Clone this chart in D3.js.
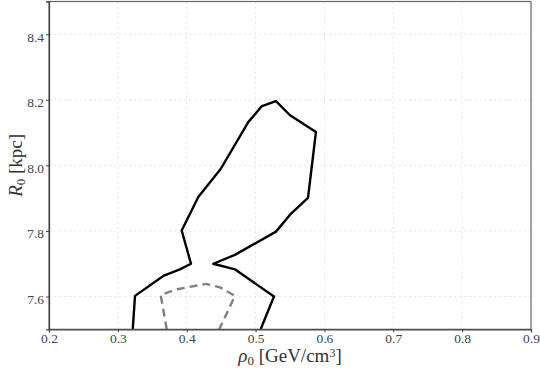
<!DOCTYPE html>
<html><head><meta charset="utf-8">
<script src="https://cdn.jsdelivr.net/npm/d3@7"></script>
<style>body{margin:0;background:#fff}svg{display:block}
svg text{font-family:'Liberation Serif','DejaVu Serif',serif}</style>
</head><body>
<script>
const xTicks = [0.2,0.3,0.4,0.5,0.6,0.7,0.8,0.9];
const yTicks = [7.6,7.8,8.0,8.2,8.4];
const solidX = [0.3216,0.3249,0.367,0.390,0.4062,0.3927,0.4168,0.4493,0.4894,0.5093,0.5297,0.550,0.5877,0.5761,0.550,0.5297,0.470,0.4386,0.470,0.5267,0.5074];
const solidY = [7.5,7.602,7.664,7.683,7.700,7.8015,7.9037,7.989,8.132,8.181,8.196,8.153,8.102,7.9006,7.8495,7.798,7.727,7.700,7.683,7.600,7.5];
const dashX = [0.371,0.3622,0.3854,0.428,0.4483,0.470,0.4473];
const dashY = [7.5,7.605,7.622,7.6385,7.628,7.602,7.5];

const W=540,H=370, L=49, R=531, T=1.5, B=329.3;
const svg=d3.select("body").append("svg").attr("width",W).attr("height",H);
const x=d3.scaleLinear().domain([0.2,0.9]).range([L,R]);
const y=d3.scaleLinear().domain([7.5,8.5]).range([B,T]);
const font="'Liberation Serif','DejaVu Serif',serif";

// grid
svg.append("g").selectAll("line").data(xTicks.slice(1,-1)).join("line")
 .attr("x1",d=>x(d)).attr("x2",d=>x(d)).attr("y1",T).attr("y2",B)
 .attr("stroke","#e2e2e2").attr("stroke-width",0.8).attr("stroke-dasharray","2.5,2.5");
svg.append("g").selectAll("line").data(yTicks).join("line")
 .attr("x1",L).attr("x2",R).attr("y1",d=>y(d)).attr("y2",d=>y(d))
 .attr("stroke","#e2e2e2").attr("stroke-width",0.8).attr("stroke-dasharray","2.5,2.5");

// data lines
const clipId="plotclip";
svg.append("clipPath").attr("id",clipId).append("rect").attr("x",L).attr("y",T).attr("width",R-L).attr("height",B-T);
const line=d3.line().x(d=>x(d[0])).y(d=>y(d[1]));
svg.append("path").datum(solidX.map((v,i)=>[v,solidY[i]])).attr("d",line)
 .attr("fill","none").attr("stroke","#000").attr("stroke-width",2.4).attr("stroke-linejoin","round").attr("clip-path",`url(#${clipId})`);
svg.append("path").datum(dashX.map((v,i)=>[v,dashY[i]])).attr("d",line)
 .attr("fill","none").attr("stroke","#808080").attr("stroke-width",2.4).attr("stroke-dasharray","8,5").attr("clip-path",`url(#${clipId})`);

// frame
svg.append("rect").attr("x",L).attr("y",T).attr("width",R-L).attr("height",B-T)
 .attr("fill","none").attr("stroke","#666").attr("stroke-width",1.2);

// axes
const xAxis=svg.append("g").attr("transform",`translate(0,${B})`)
 .call(d3.axisBottom(x).tickValues(xTicks).tickSize(3).tickPadding(1).tickFormat(d3.format(".1f")));
const yAxis=svg.append("g").attr("transform",`translate(${L},0)`)
 .call(d3.axisLeft(y).tickValues(yTicks).tickSize(3).tickPadding(2).tickFormat(d3.format(".1f")));
[xAxis,yAxis].forEach(g=>{
 g.attr("font-family",font).attr("font-size",13.5);
 g.select(".domain").attr("stroke","#444").attr("stroke-width",1.3);
 g.selectAll(".tick line").attr("stroke","#444");
 g.selectAll("text").style("font-family",font).style("font-size","13.5px").attr("fill","#444");
});
yAxis.selectAll("text").attr("dy","0.5em");

// labels
const xl=svg.append("text").attr("x",290).attr("y",362).attr("text-anchor","middle")
 .style("font-family",font).style("font-size","19px").attr("fill","#333");
xl.append("tspan").attr("font-style","italic").text("ρ");
xl.append("tspan").style("font-size","13px").attr("dy",3).text("0");
xl.append("tspan").attr("dy",-3).text(" [GeV/cm");
xl.append("tspan").style("font-size","12px").attr("dy",-5).text("3");
xl.append("tspan").attr("dy",5).text("]");

const yl=svg.append("text").attr("transform",`translate(22,${(T+B)/2}) rotate(-90)`).attr("text-anchor","middle")
 .style("font-family",font).style("font-size","19px").attr("fill","#333");
yl.append("tspan").attr("font-style","italic").text("R");
yl.append("tspan").style("font-size","13px").attr("dy",3).text("0");
yl.append("tspan").attr("dy",-3).text(" [kpc]");
</script>
</body></html>
